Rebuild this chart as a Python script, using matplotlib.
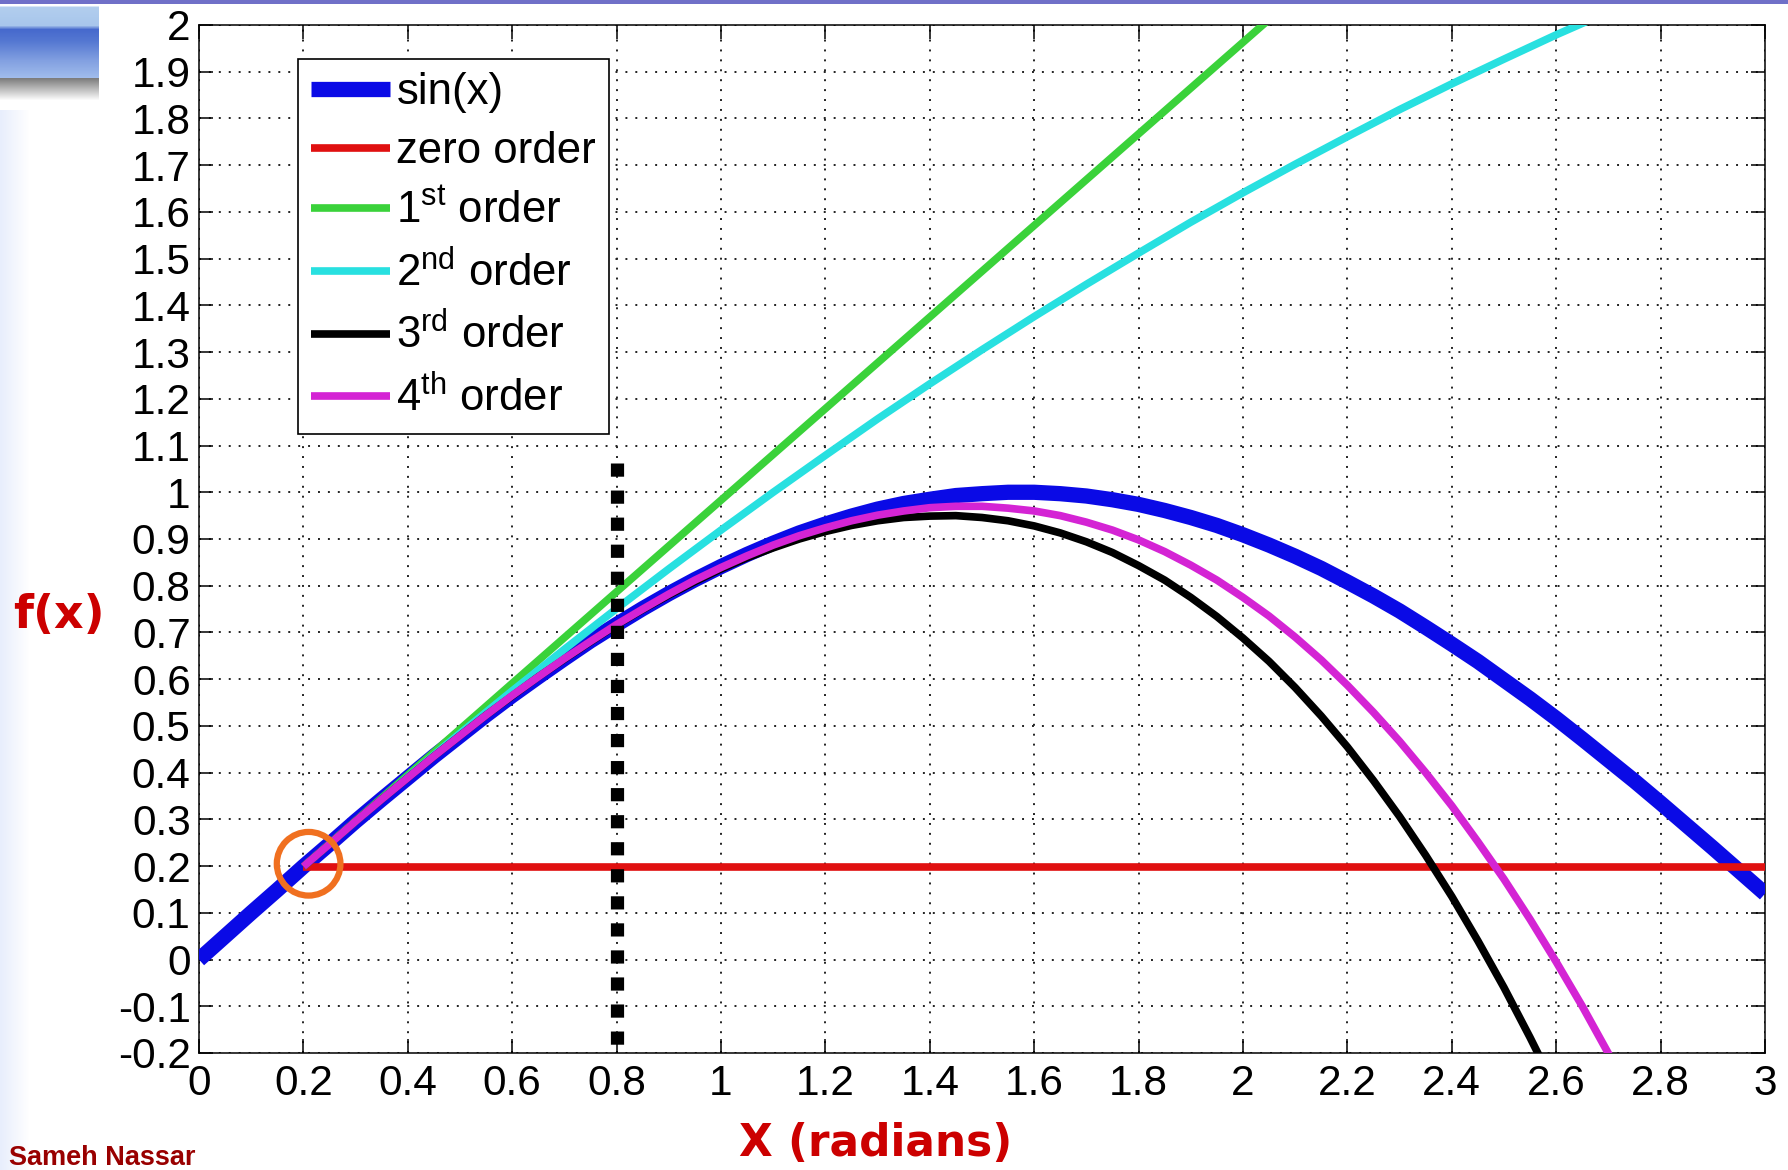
import numpy as np
import matplotlib
matplotlib.use("Agg")
import matplotlib.pyplot as plt

# ---------------- data ----------------
x_sin = [0.0, 0.05, 0.1, 0.15, 0.2, 0.25, 0.3, 0.35, 0.4, 0.45, 0.5, 0.55, 0.6, 0.65,
         0.7, 0.75, 0.8, 0.85, 0.9, 0.95, 1.0, 1.05, 1.1, 1.15, 1.2, 1.25, 1.3, 1.35,
         1.4, 1.45, 1.5, 1.55, 1.6, 1.65, 1.7, 1.75, 1.8, 1.85, 1.9, 1.95, 2.0, 2.05,
         2.1, 2.15, 2.2, 2.25, 2.3, 2.35, 2.4, 2.45, 2.5, 2.55, 2.6, 2.65, 2.7, 2.75,
         2.8, 2.85, 2.9, 2.95, 3.0]
sin_vals = [0.000, 0.050, 0.100, 0.149, 0.199, 0.247, 0.296, 0.343, 0.389, 0.435,
            0.479, 0.523, 0.565, 0.605, 0.644, 0.682, 0.717, 0.751, 0.783, 0.813,
            0.841, 0.867, 0.891, 0.913, 0.932, 0.949, 0.964, 0.976, 0.985, 0.993,
            0.997, 1.000, 1.000, 0.997, 0.992, 0.984, 0.974, 0.961, 0.946, 0.929,
            0.909, 0.887, 0.863, 0.837, 0.808, 0.778, 0.746, 0.711, 0.675, 0.638,
            0.598, 0.558, 0.516, 0.472, 0.427, 0.382, 0.335, 0.287, 0.239, 0.190,
            0.141]

x_zero = [0.2, 3.0]
zero_order = [0.199, 0.199]

x_taylor = [0.2, 0.3, 0.4, 0.5, 0.6, 0.7, 0.8, 0.9, 1.0, 1.1, 1.2, 1.3, 1.4, 1.5, 1.6,
            1.7, 1.8, 1.9, 2.0, 2.1, 2.2, 2.3, 2.4, 2.5, 2.6, 2.7, 2.8, 2.9, 3.0]
first_order = [0.199, 0.297, 0.395, 0.493, 0.591, 0.689, 0.787, 0.885, 0.983, 1.081,
               1.179, 1.277, 1.375, 1.473, 1.571, 1.669, 1.767, 1.865, 1.963, 2.061,
               2.159, 2.257, 2.355, 2.453, 2.551, 2.649, 2.747, 2.845, 2.943]
second_order = [0.199, 0.296, 0.391, 0.484, 0.575, 0.664, 0.751, 0.836, 0.919, 1.000,
                1.079, 1.157, 1.232, 1.305, 1.376, 1.445, 1.512, 1.578, 1.641, 1.702,
                1.761, 1.819, 1.874, 1.927, 1.979, 2.028, 2.075, 2.121, 2.164]

x_fine = [0.2, 0.25, 0.3, 0.35, 0.4, 0.45, 0.5, 0.55, 0.6, 0.65, 0.7, 0.75, 0.8, 0.85,
          0.9, 0.95, 1.0, 1.05, 1.1, 1.15, 1.2, 1.25, 1.3, 1.35, 1.4, 1.45, 1.5, 1.55,
          1.6, 1.65, 1.7, 1.75, 1.8, 1.85, 1.9, 1.95, 2.0, 2.05, 2.1, 2.15, 2.2, 2.25,
          2.3, 2.35, 2.4, 2.45, 2.5, 2.55, 2.6, 2.65, 2.7, 2.75, 2.8, 2.85, 2.9, 2.95,
          3.0]
third_order = [0.199, 0.247, 0.296, 0.343, 0.389, 0.435, 0.479, 0.523, 0.564, 0.605,
               0.643, 0.680, 0.716, 0.749, 0.780, 0.809, 0.836, 0.860, 0.881, 0.900,
               0.916, 0.929, 0.939, 0.946, 0.949, 0.950, 0.946, 0.939, 0.928, 0.913,
               0.894, 0.871, 0.843, 0.812, 0.775, 0.734, 0.688, 0.638, 0.582, 0.521,
               0.455, 0.383, 0.306, 0.223, 0.135, 0.040, -0.060, -0.167, -0.279,
               -0.399, -0.524, -0.657, -0.796, -0.942, -1.094, -1.254, -1.422]
fourth_order = [0.199, 0.247, 0.296, 0.343, 0.389, 0.435, 0.479, 0.523, 0.565, 0.605,
                0.644, 0.681, 0.717, 0.750, 0.782, 0.812, 0.839, 0.864, 0.887, 0.907,
                0.924, 0.939, 0.951, 0.960, 0.967, 0.970, 0.970, 0.966, 0.960, 0.950,
                0.936, 0.919, 0.898, 0.873, 0.844, 0.812, 0.775, 0.735, 0.690, 0.641,
                0.587, 0.529, 0.467, 0.400, 0.329, 0.252, 0.172, 0.086, -0.005,
                -0.100, -0.201, -0.307, -0.417, -0.533, -0.654, -0.781, -0.913]

series_labels = ["sin(x)", "zero order", r"1$^{\mathrm{st}}$ order",
                 r"2$^{\mathrm{nd}}$ order", r"3$^{\mathrm{rd}}$ order",
                 r"4$^{\mathrm{th}}$ order"]

marker_x = [0.8, 0.8]
marker_y = [1.063, -0.2]
circle_x = [0.21]
circle_y = [0.205]

x_ticks = [0, 0.2, 0.4, 0.6, 0.8, 1.0, 1.2, 1.4, 1.6, 1.8, 2.0, 2.2, 2.4, 2.6, 2.8, 3.0]
x_tick_labels = ["0", "0.2", "0.4", "0.6", "0.8", "1", "1.2", "1.4", "1.6", "1.8",
                 "2", "2.2", "2.4", "2.6", "2.8", "3"]
y_ticks = [-0.2, -0.1, 0.0, 0.1, 0.2, 0.3, 0.4, 0.5, 0.6, 0.7, 0.8, 0.9, 1.0, 1.1, 1.2,
           1.3, 1.4, 1.5, 1.6, 1.7, 1.8, 1.9, 2.0]
y_tick_labels = ["-0.2", "-0.1", "0", "0.1", "0.2", "0.3", "0.4", "0.5", "0.6", "0.7",
                 "0.8", "0.9", "1", "1.1", "1.2", "1.3", "1.4", "1.5", "1.6", "1.7",
                 "1.8", "1.9", "2"]

# ---------------- style ----------------
plt.rcParams["font.family"] = ["Liberation Sans", "DejaVu Sans"]
plt.rcParams["mathtext.fontset"] = "custom"
plt.rcParams["mathtext.rm"] = "Liberation Sans"
plt.rcParams["mathtext.it"] = "Liberation Sans:italic"
plt.rcParams["mathtext.bf"] = "Liberation Sans:bold"

W, H = 1788, 1170
fig = plt.figure(figsize=(W / 100, H / 100), dpi=100)
fig.patch.set_facecolor("white")

# ---- slide decorations ----
strip = fig.add_axes([0, 1 - 4 / H, 1, 4 / H])
strip.set_axis_off()
strip.imshow(np.array([[[112, 112, 200]]], dtype=np.uint8), aspect="auto")

stops = [(0, (255, 255, 255)), (2, (178, 206, 238)), (20, (168, 198, 236)),
         (24, (70, 105, 205)), (36, (85, 120, 210)), (55, (130, 160, 225)),
         (72, (160, 188, 236)), (73, (125, 125, 125)), (95, (255, 255, 255))]
rows = np.arange(96)
sy = [s[0] for s in stops]
grad = np.zeros((96, 1, 3))
for ch in range(3):
    grad[:, 0, ch] = np.interp(rows, sy, [s[1][ch] for s in stops])
box = fig.add_axes([0, 1 - 101 / H, 99 / W, 96 / H])
box.set_axis_off()
box.imshow(grad.astype(np.uint8), aspect="auto")

edge = np.ones((1, 30, 3))
for i in range(30):
    t = i / 29
    edge[0, i] = np.array([232, 238, 252]) * (1 - t) + np.array([255, 255, 255]) * t
ledge = fig.add_axes([0, 0, 30 / W, 1 - 110 / H])
ledge.set_axis_off()
ledge.imshow(edge.astype(np.uint8), aspect="auto")

# ---- main axes ----
ax = fig.add_axes([199 / W, 1 - 1053 / H, (1765 - 199) / W, (1053 - 25) / H])
ax.set_facecolor("white")

lw_thin = 5.5
common = dict(zorder=3, solid_capstyle="butt", solid_joinstyle="round")
h_sin, = ax.plot(x_sin, sin_vals, color="#0a0ae6", lw=11, **common)
h_zero, = ax.plot(x_zero, zero_order, color="#e01010", lw=lw_thin, **common)
h_1, = ax.plot(x_taylor, first_order, color="#3ad23a", lw=lw_thin, **common)
h_2, = ax.plot(x_taylor, second_order, color="#28e0e0", lw=lw_thin, **common)
h_3, = ax.plot(x_fine, third_order, color="#000000", lw=lw_thin, **common)
h_4, = ax.plot(x_fine, fourth_order, color="#d424d4", lw=lw_thin, **common)

ax.plot(marker_x, marker_y, color="black", lw=9.5, linestyle=(0, (1, 1.05)),
        dash_capstyle="butt", zorder=5)
ax.scatter(circle_x, circle_y, s=2100, facecolors="none", edgecolors="#f07020",
           linewidths=4.5, zorder=6, clip_on=False)

ax.set_xlim(0, 3)
ax.set_ylim(-0.2, 2)
ax.set_xticks(x_ticks)
ax.set_xticklabels(x_tick_labels)
ax.set_yticks(y_ticks)
ax.set_yticklabels(y_tick_labels)
ax.tick_params(which="both", direction="in", top=True, right=True, length=10,
               width=1.1, labelsize=30.5, colors="black")
ax.tick_params(axis="x", pad=8)
ax.tick_params(axis="y", pad=6)
for sp in ax.spines.values():
    sp.set_linewidth(1.1)
    sp.set_color("black")
ax.set_axisbelow(True)
ax.grid(True, color="#222222", lw=1.4, linestyle=(0, (1, 4.1)))

leg = ax.legend([h_sin, h_zero, h_1, h_2, h_3, h_4], series_labels,
                loc="upper left", bbox_to_anchor=(0.0632, 0.967), borderaxespad=0,
                frameon=True, fancybox=False, edgecolor="black", framealpha=1,
                prop={"family": "Liberation Sans", "size": 31.5},
                handlelength=1.8, handletextpad=0.15, labelspacing=0.42,
                borderpad=0.3)
leg.get_frame().set_linewidth(1.2)
leg.set_zorder(7)

# ---- slide texts ----
fig.text(59 / W, 1 - 616 / H, "f(x)", color="#cc0000", fontsize=33,
         fontweight="bold", family="DejaVu Sans", ha="center", va="center")
fig.text(876 / W, 1 - 1143 / H, "X (radians)", color="#cc0000", fontsize=31.5,
         fontweight="bold", family="DejaVu Sans", ha="center", va="center")
fig.text(9 / W, 5 / H, "Sameh Nassar", color="#990000", fontsize=19.5,
         fontweight="bold", family="Liberation Sans", ha="left", va="baseline")

fig.savefig("out.png", dpi=100, facecolor="white")
